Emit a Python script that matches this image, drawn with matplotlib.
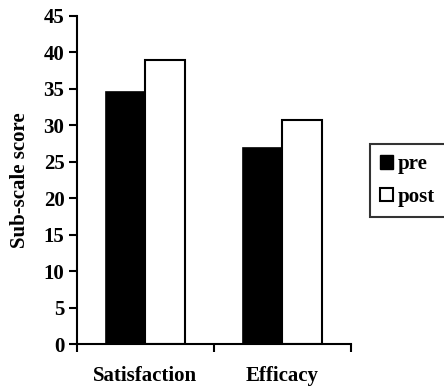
import numpy as np
import matplotlib
matplotlib.use("Agg")
import matplotlib.pyplot as plt
from matplotlib.patches import Patch

plt.rcParams['font.family'] = ['Liberation Serif', 'DejaVu Serif']
plt.rcParams['font.weight'] = 'bold'

# data
categories = ["Satisfaction", "Efficacy"]
pre = [34.6, 26.9]
post = [39.0, 30.7]

fig = plt.figure(figsize=(4.44, 3.87), dpi=100)
ax = fig.add_axes([0.1734, 0.1106, 0.617, 0.9594 - 0.1106])

x = np.arange(len(categories))
w = 0.29
ax.bar(x - w / 2, pre, w, color="black", edgecolor="black", linewidth=1.2)
ax.bar(x + w / 2, post, w, color="white", edgecolor="black", linewidth=1.5)

ax.set_xlim(-0.5, len(categories) - 0.5)
ax.set_ylim(0, 45)
ax.set_yticks(range(0, 46, 5))
ax.tick_params(axis="y", direction="out", length=6, width=1.5, labelsize=15, pad=3)

# ticks at category boundaries, labels at centres
ax.set_xticks(np.arange(-0.5, len(categories), 1.0))
ax.set_xticklabels([])
ax.set_xticks(x, minor=True)
ax.set_xticklabels(categories, minor=True, fontsize=15, fontweight="bold")
ax.tick_params(axis="x", which="major", direction="out", length=6, width=1.5)
ax.tick_params(axis="x", which="minor", length=0, pad=15.5)

for lab in ax.get_yticklabels():
    lab.set_fontweight("bold")

ax.spines["top"].set_visible(False)
ax.spines["right"].set_visible(False)
ax.spines["left"].set_linewidth(1.5)
ax.spines["bottom"].set_linewidth(1.5)

ax.set_ylabel("Sub-scale score", fontsize=15, fontweight="bold", labelpad=10)

handles = [Patch(facecolor="black", edgecolor="black", label="pre"),
           Patch(facecolor="white", edgecolor="black", linewidth=1.5, label="post")]
# legend box runs off the right edge like in the original
leg = fig.legend(handles=handles, loc="upper left", bbox_to_anchor=(0.833, 0, 0.25, 0.628),
                 mode="expand", frameon=True, fancybox=False, edgecolor="black", fontsize=15,
                 handlelength=0.62, handleheight=0.62, handletextpad=0.2,
                 borderpad=0.5, labelspacing=0.6, borderaxespad=0)
leg.get_frame().set_linewidth(1.5)
for t in leg.get_texts():
    t.set_fontweight("bold")

fig.savefig("out.png", dpi=100)
